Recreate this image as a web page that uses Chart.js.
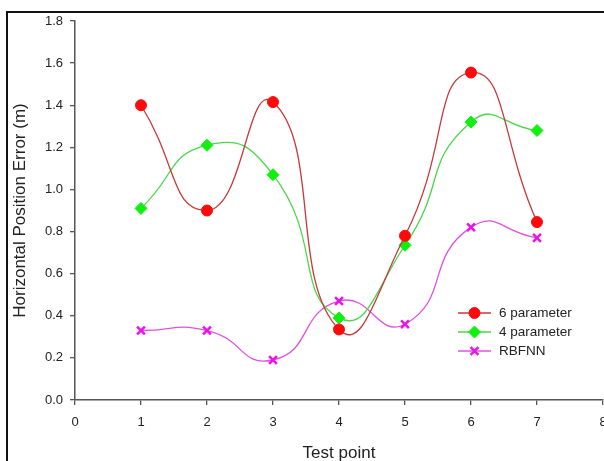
<!DOCTYPE html>
<html lang="en">
<head>
    <meta charset="UTF-8">
    <title>Horizontal Position Error</title>
    <script src="https://cdn.jsdelivr.net/npm/chart.js"></script>
    <style>
        body {
            margin: 0;
            background-color: white;
            overflow: hidden;
        }
        .frame {
            position: absolute;
            left: 6px;
            top: 11px;
            width: 640px;
            height: 500px;
            border: 2px solid #111;
        }
        .chart-box {
            position: absolute;
            left: 0;
            top: 0;
            width: 611px;
            height: 461px;
        }
    </style>
</head>
<body>
    <div class="frame"></div>
    <div class="chart-box">
        <canvas id="errorChart" width="611" height="461"></canvas>
    </div>

    <script>
        const testPoints = [1, 2, 3, 4, 5, 6, 7];
        const sixParameter = [1.40, 0.90, 1.415, 0.335, 0.78, 1.555, 0.845];
        const fourParameter = [0.91, 1.21, 1.07, 0.39, 0.735, 1.32, 1.28];
        const rbfnn = [0.33, 0.33, 0.19, 0.47, 0.36, 0.82, 0.77];
        const seriesNames = ['6 parameter', '4 parameter', 'RBFNN'];
        const fontFamily = '"Liberation Sans", Arial, sans-serif';

        function toPoints(values) {
            return values.map((v, i) => ({ x: testPoints[i], y: v }));
        }

        // leyenda dibujada dentro del area del grafico
        const legendPlugin = {
            id: 'innerLegend',
            afterDatasetsDraw(chart) {
                const ctx = chart.ctx;
                const x0 = 458, y0 = 313, gap = 19;
                chart.data.datasets.forEach((ds, i) => {
                    const y = y0 + i * gap;
                    ctx.save();
                    ctx.strokeStyle = ds.borderColor;
                    ctx.lineWidth = 1.3;
                    ctx.beginPath();
                    ctx.moveTo(x0, y);
                    ctx.lineTo(x0 + 33, y);
                    ctx.stroke();
                    ctx.fillStyle = ds.pointBackgroundColor;
                    ctx.strokeStyle = ds.pointBorderColor;
                    ctx.lineWidth = ds.pointBorderWidth;
                    Chart.helpers.drawPoint(ctx, {
                        pointStyle: ds.pointStyle,
                        radius: ds.pointRadius,
                        borderWidth: ds.pointBorderWidth
                    }, x0 + 16.5, y);
                    ctx.fillStyle = '#222';
                    ctx.font = '13.5px ' + fontFamily;
                    ctx.textBaseline = 'middle';
                    ctx.fillText(ds.label, x0 + 41, y);
                    ctx.restore();
                });
            }
        };

        const datasets = [
            {
                label: seriesNames[0],
                data: toPoints(sixParameter),
                borderColor: '#c8393a',
                pointBackgroundColor: '#ff0a0a',
                pointBorderColor: '#ff0a0a',
                pointStyle: 'circle',
                pointRadius: 5.5,
                pointBorderWidth: 1
            },
            {
                label: seriesNames[1],
                data: toPoints(fourParameter),
                borderColor: '#48d848',
                pointBackgroundColor: '#10f010',
                pointBorderColor: '#10f010',
                pointStyle: 'rectRot',
                pointRadius: 6,
                pointBorderWidth: 1
            },
            {
                label: seriesNames[2],
                data: toPoints(rbfnn),
                borderColor: '#e050e0',
                pointBackgroundColor: '#ee10ee',
                pointBorderColor: '#ee10ee',
                pointStyle: 'crossRot',
                pointRadius: 5.5,
                pointBorderWidth: 2.5
            }
        ];

        datasets.forEach(ds => {
            ds.borderWidth = 1.3;
            ds.tension = 0.55;
            ds.fill = false;
            ds.clip = false;
        });

        const ctx = document.getElementById('errorChart').getContext('2d');
        const errorChart = new Chart(ctx, {
            type: 'line',
            data: { datasets: datasets },
            plugins: [legendPlugin],
            options: {
                responsive: false,
                animation: false,
                events: [],
                layout: {
                    padding: { left: 0, top: 21, right: 3, bottom: 0 }
                },
                plugins: {
                    legend: { display: false },
                    tooltip: { enabled: false }
                },
                scales: {
                    x: {
                        type: 'linear',
                        min: 0,
                        max: 8,
                        ticks: {
                            stepSize: 1,
                            color: '#222',
                            padding: 10,
                            font: { family: fontFamily, size: 13 }
                        },
                        grid: {
                            drawOnChartArea: false,
                            drawTicks: true,
                            tickLength: 5,
                            color: '#555',
                            lineWidth: 1.3
                        },
                        border: { color: '#555', width: 1.5 },
                        title: {
                            display: true,
                            text: 'Test point',
                            color: '#222',
                            padding: { top: 0, bottom: -3 },
                            font: { family: fontFamily, size: 17 }
                        },
                        afterFit(scale) {
                            scale.height = 61;
                            scale.paddingLeft = 0;
                            scale.paddingRight = 0;
                        }
                    },
                    y: {
                        min: 0,
                        max: 1.8,
                        ticks: {
                            stepSize: 0.2,
                            color: '#222',
                            padding: 7,
                            font: { family: fontFamily, size: 13 },
                            callback: v => v.toFixed(1)
                        },
                        grid: {
                            drawOnChartArea: false,
                            drawTicks: true,
                            tickLength: 5,
                            color: '#555',
                            lineWidth: 1.3
                        },
                        border: { color: '#555', width: 1.5 },
                        title: {
                            display: true,
                            text: 'Horizontal Position Error (m)',
                            color: '#222',
                            padding: { top: 10, bottom: 0 },
                            font: { family: fontFamily, size: 17 }
                        },
                        afterFit(scale) {
                            scale.width = 75;
                            scale.paddingTop = 0;
                            scale.paddingBottom = 0;
                        }
                    }
                }
            }
        });
    </script>
</body>
</html>
